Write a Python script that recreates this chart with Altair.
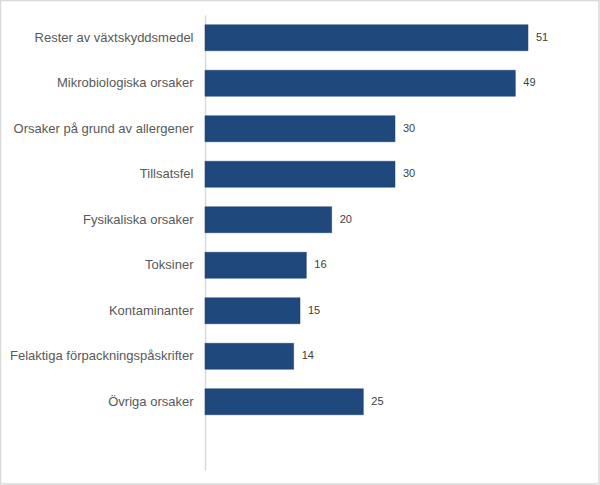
import altair as alt
import pandas as pd

categories = [
    "Rester av växtskyddsmedel",
    "Mikrobiologiska orsaker",
    "Orsaker på grund av allergener",
    "Tillsatsfel",
    "Fysikaliska orsaker",
    "Toksiner",
    "Kontaminanter",
    "Felaktiga förpackningspåskrifter",
    "Övriga orsaker",
]
values = [51, 49, 30, 30, 20, 16, 15, 14, 25]

df = pd.DataFrame({"cat": categories, "val": values})
domain = categories + [" "]

y = alt.Y(
    "cat:N",
    sort=domain,
    scale=alt.Scale(domain=domain, paddingInner=0.43, paddingOuter=0.215),
    axis=alt.Axis(
        title=None,
        ticks=False,
        labelFontSize=13,
        labelFont="Liberation Sans",
        labelColor="#595959",
        labelPadding=12,
        domainColor="#D9D9D9",
        domainWidth=1.5,
        labelLimit=250,
    ),
)
x = alt.X(
    "val:Q",
    scale=alt.Scale(domain=[0, 60], nice=False),
    axis=None,
)

bars = alt.Chart(df).mark_bar(color="#1F497D", stroke="#1A3F6E", strokeWidth=0.5).encode(y=y, x=x)
labels = alt.Chart(df).mark_text(
    align="left", baseline="middle", dx=8, fontSize=11, font="Liberation Sans", color="#404040"
).encode(y=y, x=x, text="val:Q")

border = alt.Chart(pd.DataFrame({"a": [0]})).mark_rect(
    fill=None, stroke="#D9D9D9", strokeWidth=1.5
).encode(
    x=alt.value(-204.5), x2=alt.value(394), y=alt.value(-14.5), y2=alt.value(469)
)

chart = alt.layer(border, bars, labels).properties(
    width=380,
    height=455,
    background="white",
    autosize=alt.AutoSizeParams(type="none"),
    padding={"left": 205, "top": 15, "right": 15, "bottom": 15},
).configure_view(strokeWidth=0, stroke=None)

chart.save("out.html", embed_options={"renderer": "svg", "actions": False})
